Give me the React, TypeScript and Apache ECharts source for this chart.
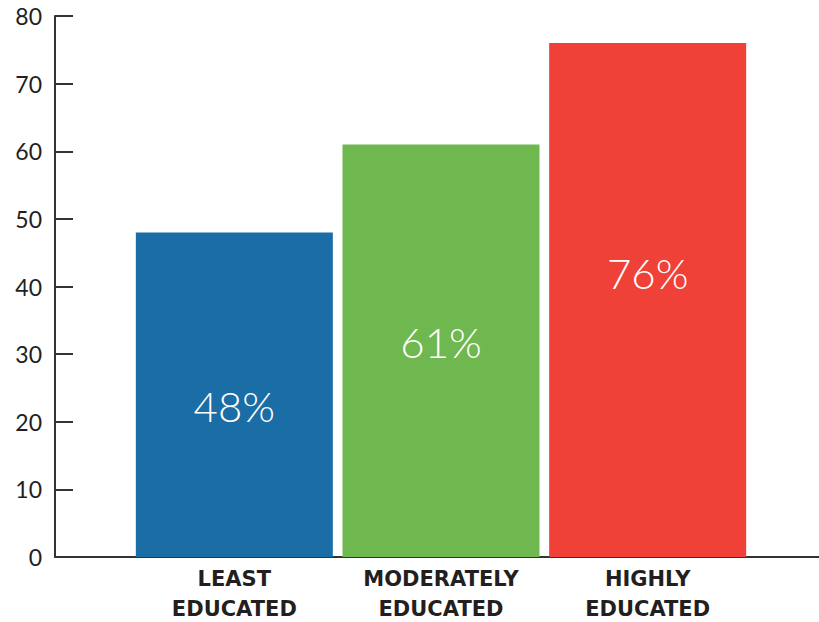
import React, { useEffect, useRef } from "react";
import * as echarts from "echarts";

const categories = ["LEAST\nEDUCATED", "MODERATELY\nEDUCATED", "HIGHLY\nEDUCATED"];
const values = [48, 61, 76];
const barColors = ["#1b6da5", "#6fb74f", "#ef4137"];
const labelOffsets = [[0, 11], [0, -9], [0, -27]];
const yMin = 0;
const yMax = 80;
const yInterval = 10;

export default function App() {
  const ref = useRef<HTMLDivElement>(null);
  useEffect(() => {
    const chart = echarts.init(ref.current!, undefined, { renderer: "svg" });
    const font = "Lato, 'Open Sans', sans-serif";
    chart.setOption({
      animation: false,
      grid: [
        { left: 55, right: 0, top: 16, height: 541, outerBoundsMode: "none", containLabel: false },
        { left: 131, width: 620, top: 16, height: 541, outerBoundsMode: "none", containLabel: false },
      ],
      xAxis: [
        {
          type: "value",
          gridIndex: 0,
          min: 0,
          max: 1,
          axisLine: { show: true, lineStyle: { color: "#333", width: 2 } },
          axisTick: { show: false },
          axisLabel: { show: false },
          splitLine: { show: false },
        },
        {
          type: "category",
          gridIndex: 1,
          data: categories,
          axisLine: { show: false },
          axisTick: { show: false },
          axisLabel: {
            color: "#231f20",
            fontFamily: "'DejaVu Sans', sans-serif",
            fontWeight: "bold",
            fontSize: 21,
            lineHeight: 30,
            margin: 7,
            interval: 0,
          },
        },
      ],
      yAxis: [
        {
          type: "value",
          gridIndex: 0,
          min: yMin,
          max: yMax,
          interval: yInterval,
          axisLine: { show: true, lineStyle: { color: "#333", width: 2 } },
          axisTick: { show: true, inside: true, length: 18, lineStyle: { color: "#333", width: 2 } },
          axisLabel: { color: "#231f20", fontFamily: font, fontSize: 23, margin: 13 },
          splitLine: { show: false },
        },
        {
          type: "value",
          gridIndex: 1,
          min: yMin,
          max: yMax,
          interval: yInterval,
          show: false,
        },
      ],
      series: [
        {
          type: "bar",
          xAxisIndex: 1,
          yAxisIndex: 1,
          barWidth: 197,
          data: values.map((v, i) => ({
            value: v,
            itemStyle: { color: barColors[i] },
            label: { offset: labelOffsets[i] },
          })),
          label: {
            show: true,
            position: "inside",
            color: "#fff",
            fontFamily: font,
            fontWeight: 300,
            fontSize: 42,
            formatter: "{c}%",
          },
        },
      ],
    });
    return () => chart.dispose();
  }, []);
  return <div ref={ref} style={{ width: 819, height: 622, position: "absolute", left: 0, top: 0 }} />;
}
